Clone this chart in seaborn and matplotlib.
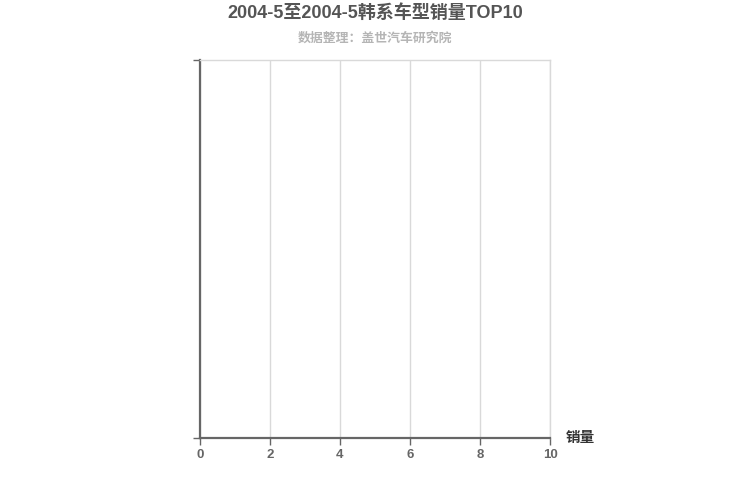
import matplotlib
matplotlib.use("Agg")
import matplotlib.pyplot as plt
import seaborn as sns
import pandas as pd

# Data (the reference chart contains no bars)
categories = []
sales = []
x_ticks = [0, 2, 4, 6, 8, 10]

title = "2004-5至2004-5韩系车型销量TOP10"
subtitle = "数据整理：盖世汽车研究院"
x_label = "销量"

sns.set_theme(style="white")
plt.rcParams['font.family'] = ['Liberation Sans', 'Noto Sans CJK SC', 'DejaVu Sans']

fig = plt.figure(figsize=(7.5, 5), dpi=100)
ax = fig.add_axes([200/750, 1-438/500, 350/750, 378/500])

df = pd.DataFrame({"车型": categories, "销量": sales})
if len(df):
    sns.barplot(data=df, x="销量", y="车型", ax=ax, color="#5b9bd5", orient="h")

ax.set_xlim(0, 10)
ax.set_ylim(0, 1)
ax.set_xticks(x_ticks)
ax.set_xticklabels([str(t) for t in x_ticks], color="#666666", fontsize=9.5, fontweight="bold")
ax.set_yticks([0, 1])
ax.set_yticklabels(["", ""])
ax.grid(axis="x", color="#d9d9d9", linewidth=1)
ax.grid(axis="y", visible=False)
ax.set_axisbelow(True)
ax.tick_params(axis="x", direction="out", length=5, width=1, color="#666666", pad=3, bottom=True)
ax.tick_params(axis="y", direction="out", length=5, width=1, color="#666666", left=True)

for s in ["left", "bottom"]:
    ax.spines[s].set_color("#666666")
    ax.spines[s].set_linewidth(1.6)
for s in ["top", "right"]:
    ax.spines[s].set_color("#d9d9d9")
    ax.spines[s].set_linewidth(1)
ax.set_xlabel("")
ax.set_ylabel("")

fig.text(375/750, 1-13/500, title, ha="center", va="center", fontsize=13, fontweight="bold",
         color="#555555")
fig.text(375/750, 1-38/500, subtitle, ha="center", va="center", fontsize=9.3, fontweight="bold",
         color="#b5b5b5")
fig.text(580/750, 1-438/500, x_label, ha="center", va="center", fontsize=10.5, fontweight="bold",
         color="#333333")

fig.savefig("out.png", dpi=100)
